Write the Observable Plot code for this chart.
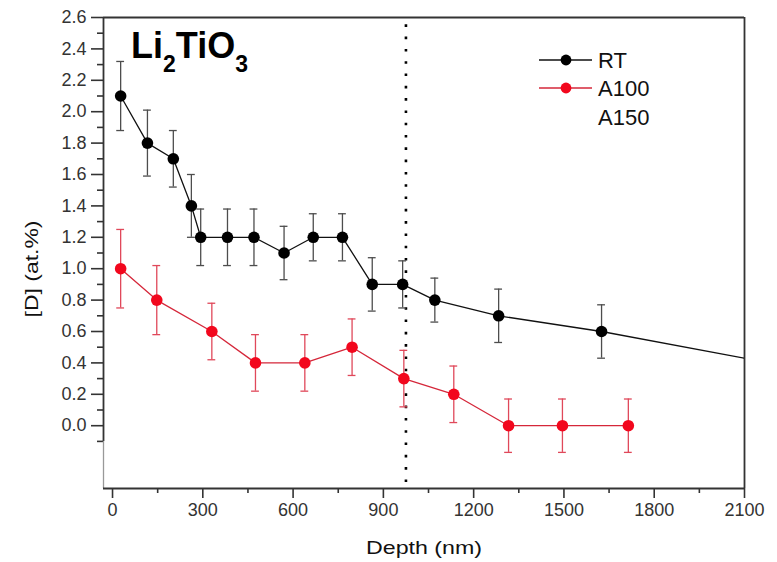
<!DOCTYPE html>
<html>
<head>
<meta charset="utf-8">
<script src="https://cdn.jsdelivr.net/npm/d3@7"></script>
<script src="https://cdn.jsdelivr.net/npm/@observablehq/plot@0.6"></script>
<style>
  html, body { margin: 0; padding: 0; background: #fff; }
  #wrap { position: relative; width: 777px; height: 562px; }
  #overlay { position: absolute; left: 0; top: 0; pointer-events: none; }
  text { font-family: "Liberation Sans", Arial, sans-serif; }
</style>
</head>
<body>
<div id="wrap"></div>
<script>
// ---- data ----
const rtDepth = [27, 116, 202, 262, 293, 382, 470, 570, 667, 764, 863, 964, 1071, 1283, 1625];
const rtValue = [2.1, 1.8, 1.7, 1.4, 1.2, 1.2, 1.2, 1.1, 1.2, 1.2, 0.9, 0.9, 0.8, 0.7, 0.6];
const rtError = [0.22, 0.21, 0.18, 0.2, 0.18, 0.18, 0.18, 0.17, 0.15, 0.15, 0.17, 0.15, 0.14, 0.17, 0.17];
const rtTailDepth = [2100];
const rtTailValue = [0.43];

const a100Depth = [27, 147, 330, 475, 639, 796, 968, 1134, 1316, 1495, 1714];
const a100Value = [1.0, 0.8, 0.6, 0.4, 0.4, 0.5, 0.3, 0.2, 0.0, 0.0, 0.0];
const a100Error = [0.25, 0.22, 0.18, 0.18, 0.18, 0.18, 0.18, 0.18, 0.17, 0.17, 0.17];

const markerDepth = [975];

const xMajor = [0, 300, 600, 900, 1200, 1500, 1800, 2100];
const xMinor = [150, 450, 750, 1050, 1350, 1650, 1950];
const yMajor = [0.0, 0.2, 0.4, 0.6, 0.8, 1.0, 1.2, 1.4, 1.6, 1.8, 2.0, 2.2, 2.4, 2.6];
const yMinor = [-0.1, 0.1, 0.3, 0.5, 0.7, 0.9, 1.1, 1.3, 1.5, 1.7, 1.9, 2.1, 2.3, 2.5];

const legendLabels = ["RT", "A100", "A150"];
const titleParts = [["Li", false], ["2", true], ["TiO", false], ["3", true]];
const xLabel = "Depth (nm)";
const yLabel = "[D] (at.%)";

// ---- build tables ----
const rt = rtDepth.map((x, i) => ({x, y: rtValue[i], e: rtError[i]}));
const rtLine = rt.concat(rtTailDepth.map((x, i) => ({x, y: rtTailValue[i]})));
const a100 = a100Depth.map((x, i) => ({x, y: a100Value[i], e: a100Error[i]}));

const xDomain = [-30, 2100];
const yDomain = [-0.4, 2.6];
const capHalf = 13; // nm, half-width of error caps

const BLACK = "#111";
const BLACK_ERR = "#4d4d4d";
const RED = "#d5273a";
const RED_ERR = "#e0485a";
const RED_DOT = "#f2071d";
const AXIS = "#333";

function errMarks(data, color) {
  return [
    Plot.ruleX(data, {x: "x", y1: d => d.y - d.e, y2: d => d.y + d.e, stroke: color, strokeWidth: 1.3}),
    Plot.ruleY(data, {y: d => d.y + d.e, x1: d => d.x - capHalf, x2: d => d.x + capHalf, stroke: color, strokeWidth: 1.3}),
    Plot.ruleY(data, {y: d => d.y - d.e, x1: d => d.x - capHalf, x2: d => d.x + capHalf, stroke: color, strokeWidth: 1.3})
  ];
}

const chart = Plot.plot({
  width: 777,
  height: 562,
  marginLeft: 103,
  marginRight: 33,
  marginTop: 17,
  marginBottom: 74,
  x: {domain: xDomain, label: null},
  y: {domain: yDomain, label: null},
  style: {fontFamily: "Liberation Sans, Arial, sans-serif", fontSize: "18px", color: AXIS, background: "#fff"},
  marks: [
    // axes
    Plot.axisX(xMajor, {tickSize: 10, tickPadding: 5, fontSize: 18, label: null, tickFormat: d => String(d), stroke: AXIS, strokeWidth: 1.6}),
    Plot.axisX(xMinor, {tickSize: 5, label: null, tickFormat: () => "", stroke: AXIS, strokeWidth: 1.6}),
    Plot.axisY(yMajor, {tickSize: 12, tickPadding: 5, fontSize: 18, label: null, tickFormat: d3.format(".1f"), stroke: AXIS, strokeWidth: 1.6}),
    Plot.axisY(yMinor, {tickSize: 6, label: null, tickFormat: () => "", stroke: AXIS, strokeWidth: 1.6}),
    // frame
    Plot.ruleX([xDomain[0]], {y1: -0.1, y2: 2.6, stroke: AXIS, strokeWidth: 1.8}),
    Plot.ruleX([xDomain[0]], {y1: yDomain[0], y2: -0.1, stroke: "#999", strokeWidth: 1.3}),
    Plot.ruleX([xDomain[1]], {y1: yDomain[0], y2: yDomain[1], stroke: AXIS, strokeWidth: 1.8}),
    Plot.ruleY([yDomain[1]], {x1: xDomain[0], x2: xDomain[1], stroke: AXIS, strokeWidth: 1.8}),
    Plot.ruleY([yDomain[0]], {x1: xDomain[0], x2: xDomain[1], stroke: AXIS, strokeWidth: 1.8}),
    // dotted marker line
    Plot.ruleX(markerDepth, {y1: yDomain[0], y2: yDomain[1], stroke: "#000", strokeWidth: 2.6, strokeDasharray: "2.6,9.7", insetTop: -6}),
    // A100
    ...errMarks(a100, RED_ERR),
    Plot.line(a100, {x: "x", y: "y", stroke: RED, strokeWidth: 1.3}),
    Plot.dot(a100, {x: "x", y: "y", r: 5.8, fill: RED_DOT, stroke: "none"}),
    // RT
    ...errMarks(rt, BLACK_ERR),
    Plot.line(rtLine, {x: "x", y: "y", stroke: BLACK, strokeWidth: 1.3, clip: true}),
    Plot.dot(rt, {x: "x", y: "y", r: 5.8, fill: "#000", stroke: "none"})
  ]
});

const wrap = document.getElementById("wrap");
wrap.appendChild(chart);

// ---- overlay: title, legend, axis titles ----
const NS = "http://www.w3.org/2000/svg";
const ov = document.createElementNS(NS, "svg");
ov.setAttribute("id", "overlay");
ov.setAttribute("width", 777);
ov.setAttribute("height", 562);
wrap.appendChild(ov);

function el(name, attrs, parent) {
  const e = document.createElementNS(NS, name);
  for (const k in attrs) e.setAttribute(k, attrs[k]);
  (parent || ov).appendChild(e);
  return e;
}

// title Li2TiO3
const title = el("text", {x: 131, y: 58, "font-size": 36, "font-weight": "bold", fill: "#000"});
const dys = [0, 14, -14, 14];
titleParts.forEach(([t, sub], i) => {
  const ts = el("tspan", {"font-size": sub ? 23 : 36, dy: dys[i]}, title);
  ts.textContent = t;
});

// legend
const legendColors = [["#000", BLACK], [RED_DOT, RED], null];
const legendY = [60, 88, 117];
legendLabels.forEach((lab, i) => {
  const c = legendColors[i];
  if (c) {
    el("line", {x1: 539, x2: 592, y1: legendY[i], y2: legendY[i], stroke: c[1], "stroke-width": 1.3});
    el("circle", {cx: 566, cy: legendY[i], r: 5.4, fill: c[0]});
  }
  const t = el("text", {x: 598, y: legendY[i] + 8, "font-size": 22, fill: "#111"});
  t.textContent = lab;
});

// axis titles
const xt = el("text", {x: 424, y: 554, "font-size": 19, "text-anchor": "middle", fill: "#111", textLength: 116, lengthAdjust: "spacingAndGlyphs"});
xt.textContent = xLabel;
const yt = el("text", {x: 0, y: 0, "font-size": 19, "text-anchor": "middle", fill: "#111", transform: "translate(38,269) rotate(-90)", textLength: 97, lengthAdjust: "spacingAndGlyphs"});
yt.textContent = yLabel;
</script>
</body>
</html>
